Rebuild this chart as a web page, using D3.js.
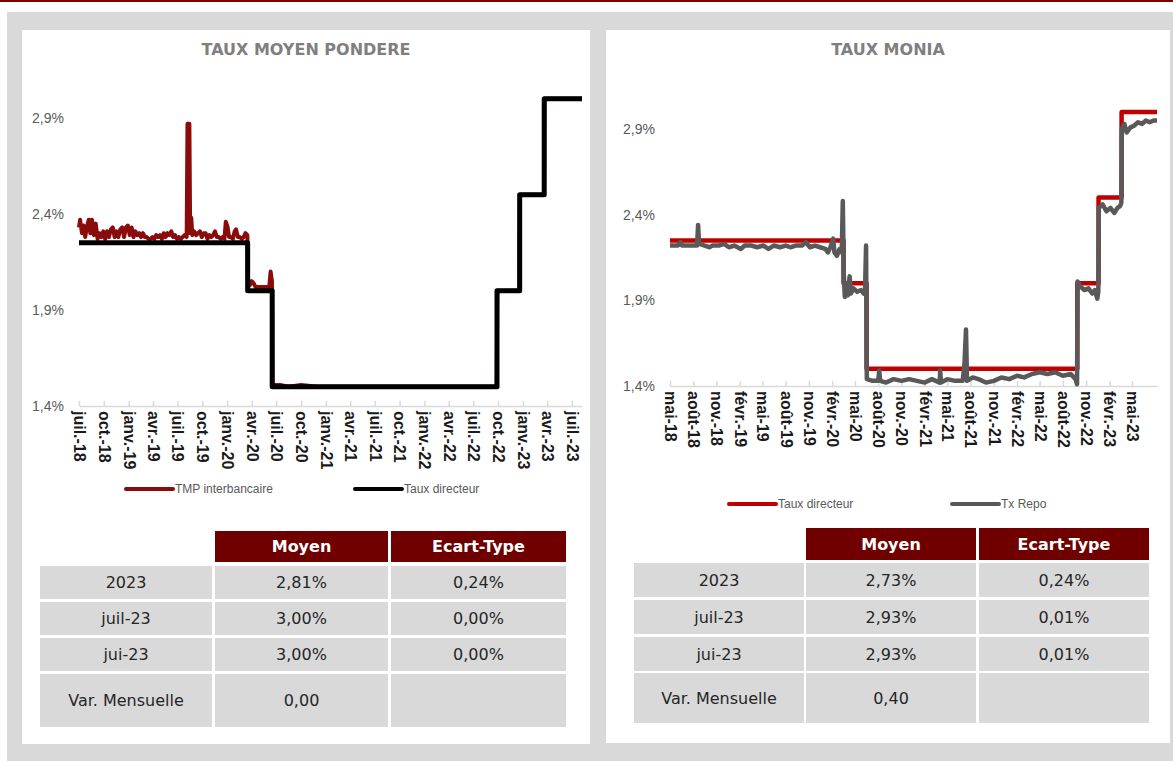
<!DOCTYPE html>
<html>
<head>
<meta charset="utf-8">
<script src="https://cdn.jsdelivr.net/npm/d3@7"></script>
<style>
  body { margin: 0; background: #fff; }
  svg { display: block; }
</style>
</head>
<body>
<svg id="page" width="1173" height="761"></svg>
<script>
// ---------- data ----------
// TMP interbancaire (left chart), [date, %]
const tmpSeries = [
  ["2018-07-01",2.33],["2018-07-05",2.37],["2018-07-12",2.30],["2018-07-18",2.34],["2018-07-24",2.28],
  ["2018-07-30",2.33],["2018-08-06",2.37],["2018-08-12",2.30],["2018-08-18",2.37],["2018-08-25",2.29],
  ["2018-09-01",2.35],["2018-09-08",2.27],["2018-09-15",2.30],["2018-09-22",2.28],["2018-09-29",2.31],
  ["2018-10-06",2.27],["2018-10-13",2.31],["2018-10-20",2.28],["2018-10-27",2.32],["2018-11-03",2.33],
  ["2018-11-10",2.28],["2018-11-17",2.31],["2018-11-24",2.28],["2018-12-01",2.32],["2018-12-08",2.33],
  ["2018-12-15",2.28],["2018-12-22",2.33],["2018-12-29",2.34],["2019-01-05",2.29],["2019-01-12",2.33],
  ["2019-01-19",2.28],["2019-01-26",2.31],["2019-02-02",2.29],["2019-02-09",2.30],["2019-02-16",2.28],
  ["2019-02-23",2.30],["2019-03-02",2.28],["2019-03-09",2.28],["2019-03-16",2.27],["2019-03-23",2.27],
  ["2019-03-30",2.28],["2019-04-06",2.27],["2019-04-13",2.29],["2019-04-20",2.28],["2019-04-27",2.29],
  ["2019-05-04",2.27],["2019-05-11",2.30],["2019-05-18",2.28],["2019-05-25",2.30],["2019-06-01",2.29],
  ["2019-06-08",2.31],["2019-06-15",2.28],["2019-06-22",2.29],["2019-06-29",2.27],["2019-07-06",2.28],
  ["2019-07-13",2.27],["2019-07-20",2.28],["2019-07-27",2.29],["2019-08-04",2.28],["2019-08-07",2.87],
  ["2019-08-14",2.87],["2019-08-17",2.30],["2019-08-21",2.38],["2019-08-25",2.29],["2019-09-01",2.31],
  ["2019-09-08",2.29],["2019-09-15",2.30],["2019-09-22",2.31],["2019-09-29",2.28],["2019-10-06",2.30],
  ["2019-10-13",2.30],["2019-10-20",2.27],["2019-10-27",2.29],["2019-11-03",2.28],["2019-11-10",2.29],
  ["2019-11-17",2.31],["2019-11-24",2.28],["2019-12-01",2.28],["2019-12-08",2.27],["2019-12-15",2.28],
  ["2019-12-22",2.27],["2019-12-27",2.36],["2020-01-03",2.33],["2020-01-08",2.28],["2020-01-15",2.28],
  ["2020-01-22",2.27],["2020-01-29",2.31],["2020-02-03",2.32],["2020-02-10",2.28],["2020-02-17",2.28],
  ["2020-02-24",2.27],["2020-03-02",2.28],["2020-03-09",2.30],["2020-03-16",2.29],["2020-03-18",2.02],
  ["2020-03-25",2.03],["2020-04-01",2.05],["2020-04-08",2.04],["2020-04-15",2.02],["2020-04-25",2.02],
  ["2020-05-10",2.02],["2020-05-25",2.02],["2020-06-05",2.02],["2020-06-10",2.10],["2020-06-15",2.05],
  ["2020-06-17",1.51],["2020-07-15",1.51],["2020-08-15",1.50],["2020-10-01",1.51],["2020-12-01",1.50],
  ["2021-03-01",1.50],["2021-06-01",1.50],["2021-10-01",1.50],["2022-03-01",1.50],["2022-09-26",1.50],
  ["2022-09-28",2.00],["2022-12-19",2.00],["2022-12-21",2.50],["2023-03-20",2.50],["2023-03-22",3.00],
  ["2023-08-08",3.00]
];

// Taux directeur, steps (start date, rate)
const tauxDirDates = ["2020-03-17","2020-06-16","2022-09-27","2022-12-20","2023-03-21"];
const tauxDirValues = [2.00, 1.50, 2.00, 2.50, 3.00];
const tauxDirStart = 2.25;

// Tx Repo (right chart), [date, %]
const repoSeries = [
  ["2018-05-01",2.22],["2018-06-01",2.22],["2018-06-12",2.24],["2018-06-18",2.22],["2018-07-10",2.22],
  ["2018-08-16",2.22],["2018-08-20",2.34],["2018-08-24",2.23],["2018-09-15",2.22],["2018-10-05",2.21],
  ["2018-10-15",2.22],["2018-11-10",2.22],["2018-12-01",2.23],["2018-12-20",2.21],["2019-01-10",2.22],
  ["2019-02-05",2.20],["2019-02-20",2.22],["2019-03-20",2.22],["2019-04-10",2.21],["2019-05-05",2.22],
  ["2019-05-25",2.20],["2019-06-15",2.22],["2019-07-10",2.21],["2019-08-01",2.22],["2019-08-20",2.21],
  ["2019-09-10",2.22],["2019-10-05",2.22],["2019-10-20",2.24],["2019-11-05",2.21],["2019-11-25",2.22],
  ["2019-12-15",2.21],["2020-01-05",2.20],["2020-01-15",2.18],["2020-01-25",2.21],["2020-02-05",2.26],
  ["2020-02-10",2.18],["2020-02-20",2.16],["2020-03-01",2.20],["2020-03-10",2.18],["2020-03-14",2.48],
  ["2020-03-18",2.05],["2020-03-22",1.92],["2020-03-28",2.00],["2020-04-03",1.93],["2020-04-10",2.04],
  ["2020-04-15",1.94],["2020-04-25",1.97],["2020-05-10",1.95],["2020-05-25",1.96],["2020-06-05",1.94],
  ["2020-06-10",1.96],["2020-06-14",2.22],["2020-06-17",1.44],["2020-07-10",1.43],["2020-08-01",1.43],
  ["2020-08-05",1.49],["2020-08-09",1.43],["2020-09-01",1.42],["2020-10-01",1.44],["2020-11-01",1.43],
  ["2020-12-01",1.44],["2021-01-01",1.43],["2021-02-01",1.42],["2021-03-01",1.44],["2021-04-01",1.42],
  ["2021-04-03",1.49],["2021-04-06",1.42],["2021-05-01",1.44],["2021-06-01",1.43],["2021-07-01",1.43],
  ["2021-07-08",1.53],["2021-07-14",1.73],["2021-07-18",1.43],["2021-08-10",1.45],["2021-09-01",1.44],
  ["2021-10-01",1.42],["2021-11-01",1.43],["2021-12-01",1.45],["2022-01-01",1.44],["2022-02-01",1.46],
  ["2022-03-01",1.45],["2022-04-01",1.47],["2022-05-01",1.48],["2022-06-01",1.47],["2022-07-01",1.48],
  ["2022-08-01",1.46],["2022-09-01",1.47],["2022-09-20",1.44],["2022-09-26",1.41],["2022-09-28",2.01],
  ["2022-10-10",1.98],["2022-10-25",1.96],["2022-11-10",1.97],["2022-11-25",1.94],["2022-12-05",1.96],
  ["2022-12-15",1.91],["2022-12-19",1.95],["2022-12-21",2.44],["2023-01-05",2.46],["2023-01-20",2.42],
  ["2023-02-05",2.44],["2023-02-20",2.41],["2023-03-05",2.44],["2023-03-15",2.45],["2023-03-20",2.47],
  ["2023-03-22",2.90],["2023-04-01",2.93],["2023-04-10",2.88],["2023-04-25",2.91],["2023-05-10",2.92],
  ["2023-05-25",2.94],["2023-06-10",2.93],["2023-06-25",2.95],["2023-07-10",2.94],["2023-07-25",2.95],
  ["2023-08-08",2.95]
];

const yTickValues = [1.4, 1.9, 2.4, 2.9];
const leftTickLabels = ["juil.-18","oct.-18","janv.-19","avr.-19","juil.-19","oct.-19","janv.-20","avr.-20",
  "juil.-20","oct.-20","janv.-21","avr.-21","juil.-21","oct.-21","janv.-22","avr.-22","juil.-22","oct.-22",
  "janv.-23","avr.-23","juil.-23"];
const rightTickLabels = ["mai-18","août-18","nov.-18","févr.-19","mai-19","août-19","nov.-19","févr.-20",
  "mai-20","août-20","nov.-20","févr.-21","mai-21","août-21","nov.-21","févr.-22","mai-22","août-22",
  "nov.-22","févr.-23","mai-23"];

// tables
const tableHeaders = ["Moyen", "Ecart-Type"];
const rowLabels = ["2023", "juil-23", "jui-23", "Var. Mensuelle"];
const tmpMoyen = ["2,81%", "3,00%", "3,00%", "0,00"];
const tmpEcart = ["0,24%", "0,00%", "0,00%", ""];
const moniaMoyen = ["2,73%", "2,93%", "2,93%", "0,40"];
const moniaEcart = ["0,24%", "0,01%", "0,01%", ""];

const parse = d3.timeParse("%Y-%m-%d");
const svg = d3.select("#page");

// page background
svg.append("rect").attr("width", 1173).attr("height", 761).attr("fill", "#fff");
svg.append("rect").attr("x", 0).attr("y", 0).attr("width", 1173).attr("height", 2).attr("fill", "#7b0000");
svg.append("rect").attr("x", 7).attr("y", 12).attr("width", 1166).attr("height", 749).attr("fill", "#d9d9d9");
svg.append("rect").attr("x", 22).attr("y", 30).attr("width", 568).attr("height", 714).attr("fill", "#fff");
svg.append("rect").attr("x", 606).attr("y", 30).attr("width", 564).attr("height", 713).attr("fill", "#fff");

class RateChart {
    constructor(_config, _series) {
        this.config = _config;
        this.series = _series;
        this.initVis();
    }

    initVis() {
        let vis = this;
        const c = vis.config;
        vis.g = svg.append("g");

        vis.x = d3.scaleTime()
            .domain([parse(c.xStart), parse(c.xEnd)])
            .range([c.left, c.right]);
        vis.y = d3.scaleLinear()
            .domain([1.4, 2.9])
            .range([c.bottom, c.bottom - 1.5 * c.pxPerPct]);

        // title
        vis.g.append("text")
            .attr("x", c.titleX).attr("y", 55)
            .attr("text-anchor", "middle")
            .attr("font-family", "DejaVu Sans, sans-serif")
            .attr("font-weight", "bold")
            .attr("font-size", 16)
            .attr("fill", "#7f7f7f")
            .text(c.title);

        // y labels (no axis line)
        vis.g.selectAll(".ylab")
            .data(yTickValues)
            .join("text")
            .attr("class", "ylab")
            .attr("x", c.left - 15)
            .attr("y", d => vis.y(d))
            .attr("dy", "0.35em")
            .attr("text-anchor", "end")
            .attr("font-family", "Liberation Sans, sans-serif")
            .attr("font-size", 14)
            .attr("fill", "#595959")
            .text(d => d.toFixed(1).replace(".", ",") + "%");

        // x axis
        const start = parse(c.xStart);
        const tickDates = c.tickLabels.map((l, i) => d3.timeMonth.offset(start, 3 * i));
        const xAxis = d3.axisBottom(vis.x)
            .tickValues(tickDates)
            .tickFormat((d, i) => c.tickLabels[i])
            .tickSizeInner(-5)
            .tickSizeOuter(0);

        const ax = vis.g.append("g")
            .attr("transform", `translate(0,${c.bottom})`)
            .call(xAxis)
            .attr("font-family", "Liberation Sans, sans-serif")
            .attr("font-size", 16);
        ax.select(".domain").attr("stroke", "#d9d9d9").attr("stroke-width", 1.5);
        ax.selectAll(".tick line").attr("stroke", "#d9d9d9").attr("stroke-width", 1.5);
        ax.selectAll(".tick text")
            .attr("transform", "rotate(90)")
            .attr("x", 5).attr("y", 0).attr("dy", "0.35em")
            .attr("text-anchor", "start")
            .attr("font-weight", "bold")
            .attr("fill", "#1a1a1a");

        vis.renderVis();
    }

    renderVis() {
        let vis = this;
        const c = vis.config;

        const line = d3.line()
            .x(d => vis.x(d.date))
            .y(d => vis.y(d.value));

        vis.series.forEach(s => {
            vis.g.append("path")
                .datum(s.data)
                .attr("fill", "none")
                .attr("stroke", s.color)
                .attr("stroke-width", s.width)
                .attr("stroke-linejoin", "round")
                .attr("d", line.curve(s.step ? d3.curveStepAfter : d3.curveLinear));
        });

        // legend
        const leg = vis.g.selectAll(".leg")
            .data(vis.series)
            .join("g")
            .attr("class", "leg")
            .attr("transform", (d, i) => `translate(${c.legendX[i]},${c.legendY})`);
        leg.append("line")
            .attr("x1", 0).attr("x2", 47)
            .attr("stroke", d => d.color)
            .attr("stroke-width", 4)
            .attr("stroke-linecap", "round");
        leg.append("text")
            .attr("x", 49).attr("dy", "0.35em")
            .attr("font-family", "Liberation Sans, sans-serif")
            .attr("font-size", 12)
            .attr("fill", "#595959")
            .text(d => d.name);
    }
}

function stepData(startDate, endDate, firstValue, dates, values) {
    const pts = [{ date: parse(startDate), value: firstValue }];
    dates.forEach((d, i) => pts.push({ date: parse(d), value: values[i] }));
    pts.push({ date: parse(endDate), value: values[values.length - 1] });
    return pts;
}
const toPts = arr => arr.map(d => ({ date: parse(d[0]), value: d[1] }));

new RateChart({
    title: "TAUX MOYEN PONDERE", titleX: 306,
    xStart: "2018-07-01", xEnd: "2023-08-08",
    left: 79, right: 582, bottom: 406, pxPerPct: 192,
    tickLabels: leftTickLabels,
    legendX: [126, 355], legendY: 489
}, [
    { name: "TMP interbancaire", color: "#8b0a0a", width: 4, data: toPts(tmpSeries) },
    { name: "Taux directeur", color: "#000000", width: 5, step: true,
      data: stepData("2018-07-01", "2023-08-08", tauxDirStart, tauxDirDates, tauxDirValues) }
]);

new RateChart({
    title: "TAUX MONIA", titleX: 888,
    xStart: "2018-05-01", xEnd: "2023-08-08",
    left: 670, right: 1157, bottom: 386, pxPerPct: 171.3,
    tickLabels: rightTickLabels,
    legendX: [729, 952], legendY: 504
}, [
    { name: "Taux directeur", color: "#c00000", width: 4.5, step: true,
      data: stepData("2018-05-01", "2023-08-08", tauxDirStart, tauxDirDates, tauxDirValues) },
    { name: "Tx Repo", color: "#595959", width: 4.5, data: toPts(repoSeries) }
]);

// ---------- tables ----------
function drawTable(cfg, moyen, ecart) {
    const g = svg.append("g");
    const font = "DejaVu Sans, sans-serif";

    // header cells
    tableHeaders.forEach((h, j) => {
        g.append("rect")
            .attr("x", cfg.colX[j + 1]).attr("y", cfg.headY)
            .attr("width", cfg.colW[j + 1]).attr("height", cfg.headH)
            .attr("fill", "#700000");
        g.append("text")
            .attr("x", cfg.colX[j + 1] + cfg.colW[j + 1] / 2)
            .attr("y", cfg.headY + cfg.headH / 2)
            .attr("dy", "0.35em")
            .attr("text-anchor", "middle")
            .attr("font-family", font).attr("font-weight", "bold").attr("font-size", 16)
            .attr("fill", "#fff")
            .text(h);
    });

    const rows = rowLabels.map((l, i) => [l, moyen[i], ecart[i]]);
    rows.forEach((r, i) => {
        r.forEach((v, j) => {
            g.append("rect")
                .attr("x", cfg.colX[j]).attr("y", cfg.rowY[i])
                .attr("width", cfg.colW[j]).attr("height", cfg.rowH[i])
                .attr("fill", "#d9d9d9");
            g.append("text")
                .attr("x", cfg.colX[j] + cfg.colW[j] / 2)
                .attr("y", cfg.rowY[i] + cfg.rowH[i] / 2)
                .attr("dy", "0.35em")
                .attr("text-anchor", "middle")
                .attr("font-family", font).attr("font-size", 16)
                .attr("fill", "#262626")
                .text(v);
        });
    });
}

drawTable({
    colX: [40, 215, 391], colW: [172, 173, 175],
    headY: 531, headH: 31,
    rowY: [566, 602, 638, 674], rowH: [33, 33, 33, 53]
}, tmpMoyen, tmpEcart);

drawTable({
    colX: [634, 806, 979], colW: [170, 170, 170],
    headY: 528, headH: 32,
    rowY: [563, 600, 637, 673], rowH: [34, 34, 34, 50]
}, moniaMoyen, moniaEcart);
</script>
</body>
</html>
